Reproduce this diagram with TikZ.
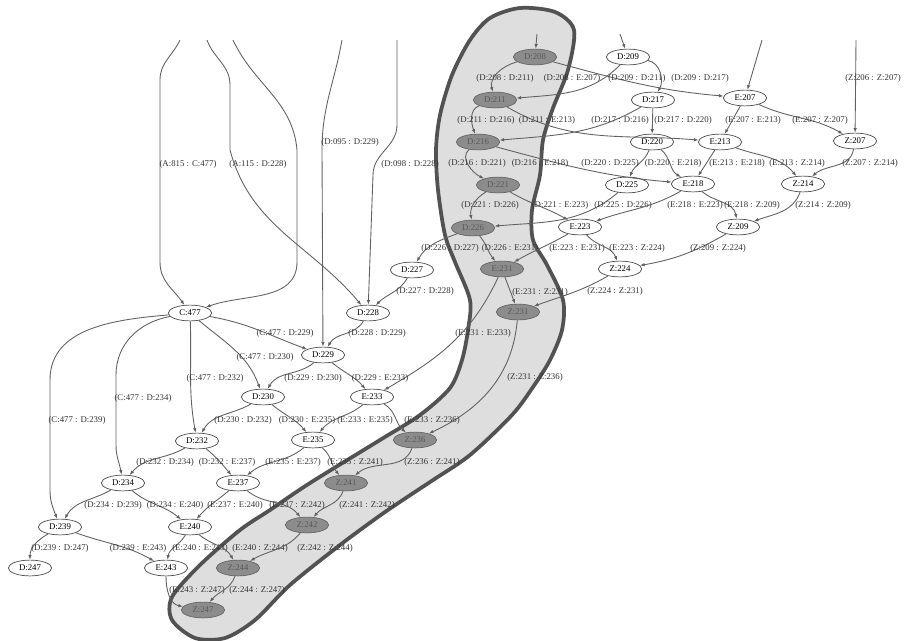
\documentclass[tikz,border=0pt]{standalone}
\usepackage{fontspec}
\setmainfont{Liberation Serif}
\usetikzlibrary{arrows.meta,shapes.geometric}

\begin{document}
\begin{tikzpicture}[x=0.03cm,y=-0.03cm,
    state/.style={ellipse,draw=black!70,fill=white,line width=0.6pt,
        minimum width=37pt,minimum height=13.5pt,inner sep=0pt,
        font=\fontsize{7.5}{8}\selectfont},
    hot/.style={state,fill=black!45,draw=black!60,text=black!65},
    flow/.style={-{Latex[length=4pt,width=3pt]},draw=black!62,line width=0.75pt},
    lbl/.style={font=\fontsize{7.5}{8}\selectfont,text=black!80,inner sep=0pt}]
    \useasboundingbox (0,0) rectangle (904,640);

    % Highlighted band
    \draw[line width=3.2pt,draw=black!68,fill=black!13] plot[smooth cycle] coordinates {
        (490,18) (520,8) (555,12) (574,30) (568,70) (553,108) (543,140)
        (540,175) (532,210) (533,240) (547,265) (563,300) (562,330)
        (550,360) (533,387) (512,415) (470,455) (430,482) (385,512)
        (340,545) (290,585) (255,620) (225,638) (195,638) (172,620)
        (172,597) (200,565) (240,530) (270,510) (310,483) (380,440)
        (420,415) (450,388) (462,360) (468,330) (470,300) (455,262)
        (445,235) (438,190) (436,150) (440,115) (452,75) (470,40)};

    % Nodes on the band
    \node[hot] (d208) at (535,57) {D:208};
    \node[hot] (d211) at (495,100) {D:211};
    \node[hot] (d216) at (478,142) {D:216};
    \node[hot] (d221) at (498,185) {D:221};
    \node[hot] (d226) at (473,228) {D:226};
    \node[hot] (e231) at (502,269) {E:231};
    \node[hot] (z231) at (518,312) {Z:231};
    \node[hot] (z236) at (415,440) {Z:236};
    \node[hot] (z241) at (346,483) {Z:241};
    \node[hot] (z242) at (307,525) {Z:242};
    \node[hot] (z244) at (238,568) {Z:244};
    \node[hot] (z247) at (203,610) {Z:247};

    % Other nodes
    \node[state] (d209) at (628,57) {D:209};
    \node[state] (d217) at (653,100) {D:217};
    \node[state] (e207) at (745,98) {E:207};
    \node[state] (z207) at (855,141) {Z:207};
    \node[state] (d220) at (652,142) {D:220};
    \node[state] (e213) at (720,142) {E:213};
    \node[state] (d225) at (627,185) {D:225};
    \node[state] (e218) at (693,184) {E:218};
    \node[state] (z214) at (803,184) {Z:214};
    \node[state] (z209) at (738,227) {Z:209};
    \node[state] (e223) at (580,227) {E:223};
    \node[state] (z224) at (620,269) {Z:224};
    \node[state] (d227) at (412,270) {D:227};
    \node[state] (d228) at (368,313) {D:228};
    \node[state] (c477) at (190,313) {C:477};
    \node[state] (d229) at (323,355) {D:229};
    \node[state] (d230) at (263,397) {D:230};
    \node[state] (e233) at (372,397) {E:233};
    \node[state] (d232) at (197,441) {D:232};
    \node[state] (e235) at (313,440) {E:235};
    \node[state] (d234) at (123,483) {D:234};
    \node[state] (e237) at (238,483) {E:237};
    \node[state] (d239) at (60,527) {D:239};
    \node[state] (e240) at (190,527) {E:240};
    \node[state] (d247) at (30,568) {D:247};
    \node[state] (e243) at (166,568) {E:243};

    % Loose ends at the top
    \coordinate (t208) at (537,34);
    \coordinate (t209) at (620,34);
    \coordinate (t207) at (762,40);
    \coordinate (t206) at (856,40);
    \coordinate (a815) at (180,40);
    \coordinate (a115) at (207,40);
    \coordinate (a116) at (233,40);
    \coordinate (d095) at (342,40);
    \coordinate (d098) at (397,40);

    \draw[flow] (t208) -- (d208);
    \draw[flow] (t209) -- (d209);
    \draw[flow] (t207) -- (e207);
    \draw[flow] (t206) -- (z207) node[lbl] at (873,78) {(Z:206 : Z:207)};
    \draw[flow] (a815) to[out=-115,in=90] (160,80) -- (160,262) to[out=-90,in=125] (c477)
        node[lbl] at (188,164) {(A:815 : C:477)};
    \draw[flow] (a115) to[out=-70,in=90] (230,85) -- (230,150) to[out=-75,in=130] (d228)
        node[lbl] at (258,164) {(A:115 : D:228)};
    \draw[flow] (a116) to[out=-65,in=95] (297,150) -- (297,262) to[out=-90,in=20] (c477);
    \draw[flow] (d095) to[out=-100,in=90] (322,150) -- (d229)
        node[lbl] at (350,142) {(D:095 : D:229)};
    \draw[flow] (d098) -- (397,125) to[out=-90,in=90] (373,175) -- (d228)
        node[lbl] at (410,164) {(D:098 : D:228)};

    % Upper right part
    \draw[flow] (d208) to[out=195,in=105] (d211) node[lbl] at (505,78) {(D:208 : D:211)};
    \draw[flow] (d208) to[out=-15,in=175] (e207) node[lbl] at (572,78) {(D:208 : E:207)};
    \draw[flow] (d209) to[out=-135,in=5] (d211) node[lbl] at (637,78) {(D:209 : D:211)};
    \draw[flow] (d209) to[out=-10,in=60] (d217) node[lbl] at (700,78) {(D:209 : D:217)};
    \draw[flow] (d211) to[out=200,in=110] (d216) node[lbl] at (486,120) {(D:211 : D:216)};
    \draw[flow] (d211) to[out=-30,in=175] (e213) node[lbl] at (547,120) {(D:211 : E:213)};
    \draw[flow] (d217) to[out=-150,in=5] (d216) node[lbl] at (620,120) {(D:217 : D:216)};
    \draw[flow] (d217) -- (d220) node[lbl] at (683,120) {(D:217 : D:220)};
    \draw[flow] (e207) to[out=-120,in=60] (e213) node[lbl] at (753,120) {(E:207 : E:213)};
    \draw[flow] (e207) to[out=-25,in=150] (z207) node[lbl] at (820,120) {(E:207 : Z:207)};
    \draw[flow] (d216) to[out=-140,in=155] (d221) node[lbl] at (477,163) {(D:216 : D:221)};
    \draw[flow] (d216) to[out=-15,in=175] (e218) node[lbl] at (540,163) {(D:216 : E:218)};
    \draw[flow] (d220) to[out=-110,in=70] (d225) node[lbl] at (610,163) {(D:220 : D:225)};
    \draw[flow] (d220) to[out=-40,in=150] (e218) node[lbl] at (673,163) {(D:220 : E:218)};
    \draw[flow] (e213) -- (e218) node[lbl] at (737,163) {(E:213 : E:218)};
    \draw[flow] (e213) to[out=-20,in=130] (z214) node[lbl] at (797,163) {(E:213 : Z:214)};
    \draw[flow] (z207) to[out=-100,in=40] (z214) node[lbl] at (870,163) {(Z:207 : Z:214)};
    \draw[flow] (d221) to[out=-150,in=100] (d226) node[lbl] at (490,205) {(D:221 : D:226)};
    \draw[flow] (d221) to[out=-30,in=150] (e223) node[lbl] at (560,205) {(D:221 : E:223)};
    \draw[flow] (d225) to[out=-140,in=5] (d226) node[lbl] at (623,205) {(D:225 : D:226)};
    \draw[flow] (e218) to[out=-150,in=20] (e223) node[lbl] at (695,205) {(E:218 : E:223)};
    \draw[flow] (e218) to[out=-40,in=100] (z209) node[lbl] at (752,205) {(E:218 : Z:209)};
    \draw[flow] (z214) to[out=-110,in=20] (z209) node[lbl] at (823,205) {(Z:214 : Z:209)};
    \draw[flow] (d226) to[out=200,in=60] (d227) node[lbl] at (450,248) {(D:226 : D:227)};
    \draw[flow] (d226) to[out=-50,in=130] (e231) node[lbl] at (510,248) {(D:226 : E:231)};
    \draw[flow] (e223) to[out=-150,in=30] (e231) node[lbl] at (577,248) {(E:223 : E:231)};
    \draw[flow] (e223) to[out=-50,in=110] (z224) node[lbl] at (637,248) {(E:223 : Z:224)};
    \draw[flow] (z209) to[out=-150,in=10] (z224) node[lbl] at (718,248) {(Z:209 : Z:224)};

    % Middle part
    \draw[flow] (d227) to[out=-120,in=45] (d228) node[lbl] at (425,291) {(D:227 : D:228)};
    \draw[flow] (e231) to[out=-70,in=110] (z231) node[lbl] at (540,292) {(E:231 : Z:231)};
    \draw[flow] (z224) to[out=-150,in=20] (z231) node[lbl] at (615,291) {(Z:224 : Z:231)};
    \draw[flow] (d228) to[out=-120,in=60] (d229) node[lbl] at (377,333) {(D:228 : D:229)};
    \draw[flow] (c477) to[out=-10,in=160] (d229) node[lbl] at (285,333) {(C:477 : D:229)};
    \draw[flow] (e231) to[out=-115,in=30] (e233) node[lbl] at (483,333) {(E:231 : E:233)};
    \draw[flow] (c477) to[out=-40,in=110] (d230) node[lbl] at (265,357) {(C:477 : D:230)};
    \draw[flow] (c477) to[out=-88,in=100] (d232) node[lbl] at (215,378) {(C:477 : D:232)};
    \draw[flow] (c477) to[out=190,in=90] (116,375) -- (116,445) to[out=-90,in=100] (d234)
        node[lbl] at (143,398) {(C:477 : D:234)};
    \draw[flow] (c477) to[out=185,in=90] (50,380) -- (50,490) to[out=-90,in=110] (d239)
        node[lbl] at (77,420) {(C:477 : D:239)};
    \draw[flow] (d229) to[out=-140,in=60] (d230) node[lbl] at (313,378) {(D:229 : D:230)};
    \draw[flow] (d229) to[out=-40,in=130] (e233) node[lbl] at (380,378) {(D:229 : E:233)};
    \draw[flow] (z231) to[out=-95,in=25] (z236) node[lbl] at (535,377) {(Z:231 : Z:236)};

    % Lower part
    \draw[flow] (d230) to[out=-150,in=60] (d232) node[lbl] at (243,420) {(D:230 : D:232)};
    \draw[flow] (d230) to[out=-40,in=130] (e235) node[lbl] at (307,420) {(D:230 : E:235)};
    \draw[flow] (e233) to[out=-140,in=50] (e235) node[lbl] at (365,420) {(E:233 : E:235)};
    \draw[flow] (e233) to[out=-30,in=140] (z236) node[lbl] at (432,420) {(E:233 : Z:236)};
    \draw[flow] (d232) to[out=-150,in=50] (d234) node[lbl] at (165,462) {(D:232 : D:234)};
    \draw[flow] (d232) to[out=-40,in=130] (e237) node[lbl] at (227,462) {(D:232 : E:237)};
    \draw[flow] (e235) to[out=-140,in=40] (e237) node[lbl] at (293,462) {(E:235 : E:237)};
    \draw[flow] (e235) to[out=-40,in=130] (z241) node[lbl] at (355,462) {(E:235 : Z:241)};
    \draw[flow] (z236) to[out=-110,in=40] (z241) node[lbl] at (432,462) {(Z:236 : Z:241)};
    \draw[flow] (d234) to[out=-150,in=60] (d239) node[lbl] at (113,505) {(D:234 : D:239)};
    \draw[flow] (d234) to[out=-40,in=140] (e240) node[lbl] at (175,505) {(D:234 : E:240)};
    \draw[flow] (e237) to[out=-140,in=50] (e240) node[lbl] at (235,505) {(E:237 : E:240)};
    \draw[flow] (e237) to[out=-40,in=130] (z242) node[lbl] at (297,505) {(E:237 : Z:242)};
    \draw[flow] (z241) to[out=-110,in=50] (z242) node[lbl] at (367,505) {(Z:241 : Z:242)};
    \draw[flow] (d239) to[out=-150,in=90] (d247) node[lbl] at (60,548) {(D:239 : D:247)};
    \draw[flow] (d239) to[out=-20,in=150] (e243) node[lbl] at (138,548) {(D:239 : E:243)};
    \draw[flow] (e240) to[out=-120,in=80] (e243) node[lbl] at (200,548) {(E:240 : E:243)};
    \draw[flow] (e240) to[out=-40,in=120] (z244) node[lbl] at (260,548) {(E:240 : Z:244)};
    \draw[flow] (z242) to[out=-130,in=30] (z244) node[lbl] at (325,548) {(Z:242 : Z:244)};
    \draw[flow] (e243) to[out=-90,in=170] (z247) node[lbl] at (197,590) {(E:243 : Z:247)};
    \draw[flow] (z244) to[out=-110,in=50] (z247) node[lbl] at (257,590) {(Z:244 : Z:247)};
\end{tikzpicture}
\end{document}
